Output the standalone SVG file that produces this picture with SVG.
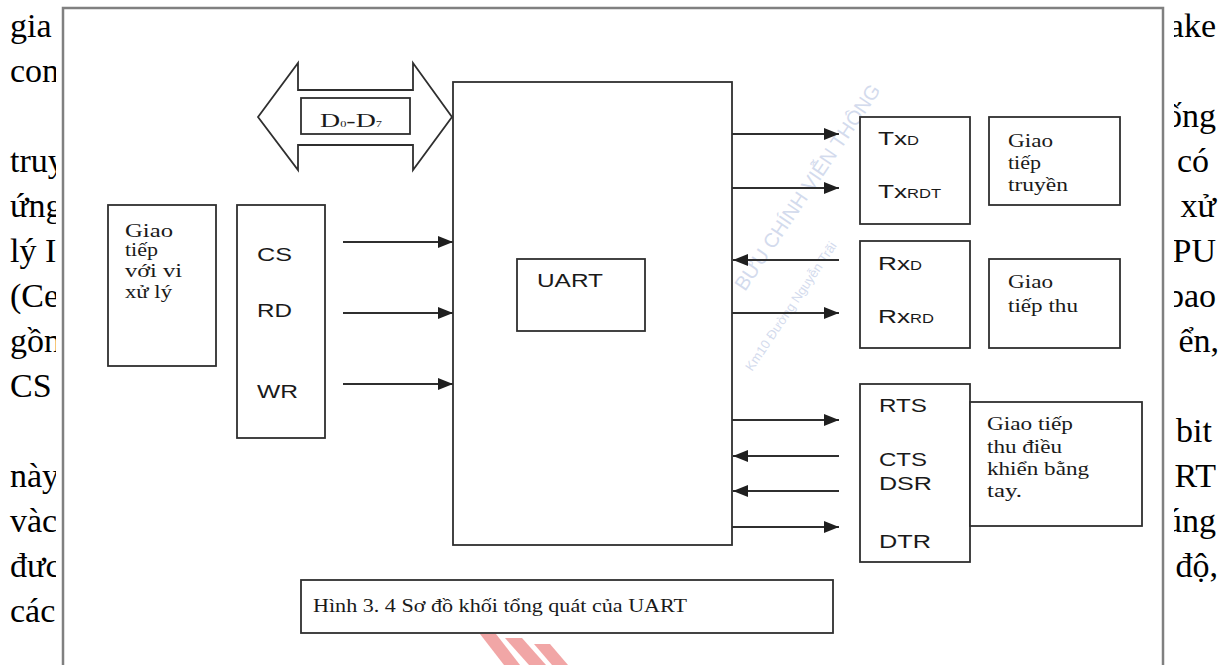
<svg xmlns="http://www.w3.org/2000/svg" width="1232" height="665" viewBox="0 0 1232 665">
<defs>
<style>
.page{font-family:"Liberation Serif","Times New Roman",serif;font-size:34px;fill:#000}
.box{fill:#fff;stroke:#2f2f2f;stroke-width:1.8}
.lbl{font-family:"Liberation Sans",Arial,sans-serif;font-size:19px;fill:#1a1a1a}
.srf{font-family:"Liberation Serif","Times New Roman",serif;font-size:18px;fill:#1a1a1a}
.wire{stroke:#2f2f2f;stroke-width:1.8;fill:none}
.wm{font-family:"Liberation Sans",Arial,sans-serif;fill:#9fb0d8;opacity:0.45}
</style>
<marker id="ah" markerUnits="userSpaceOnUse" markerWidth="15" markerHeight="12" viewBox="0 0 15 12" refX="15" refY="6" orient="auto"><path d="M0,0 L15,6 L0,12 z" fill="#1f1f1f"/></marker>
</defs>
<rect x="0" y="0" width="1232" height="665" fill="#fff"/>
<g id="page-text-left" class="page">
<text x="10" y="37">gia</text>
<text x="10" y="82">con</text>
<text x="10" y="172">truy</text>
<text x="10" y="217">ứng</text>
<text x="10" y="262">lý I</text>
<text x="10" y="307">(Ce</text>
<text x="10" y="352">gồn</text>
<text x="10" y="397">CS</text>
<text x="10" y="487">này</text>
<text x="10" y="532">vàc</text>
<text x="10" y="577">đưc</text>
<text x="10" y="622">các</text>
</g>
<g id="page-text-right" class="page" text-anchor="end">
<text x="1216" y="37">ake</text>
<text x="1216" y="127">ống</text>
<text x="1209" y="172">có</text>
<text x="1216" y="217">xử</text>
<text x="1216" y="262">PU</text>
<text x="1216" y="307">bao</text>
<text x="1219" y="352">ển,</text>
<text x="1212" y="442">bit</text>
<text x="1216" y="487">RT</text>
<text x="1216" y="532">úng</text>
<text x="1218" y="577">độ,</text>
</g>
<g id="frame">
<rect x="56" y="0" width="1118" height="665" fill="#fff"/>
<rect x="63" y="8" width="1100" height="700" fill="none" stroke="#808080" stroke-width="2.5"/>
</g>
<g id="watermark">
<text class="wm" font-size="20" transform="translate(745,292) rotate(-56)">BƯU CHÍNH VIỄN THÔNG</text>
<text class="wm" font-size="13" transform="translate(752,372) rotate(-56)">Km10 Đường Nguyễn Trãi</text>
<g fill="#e23b3b" opacity="0.45">
<polygon points="480,634 496,634 520,665 504,665"/>
<polygon points="505,638 522,638 546,665 529,665"/>
<polygon points="534,644 550,644 568,665 552,665"/>
</g>
</g>
<g id="connectors">
<line class="wire" x1="343" y1="242" x2="453" y2="242" marker-end="url(#ah)"/>
<line class="wire" x1="343" y1="313" x2="453" y2="313" marker-end="url(#ah)"/>
<line class="wire" x1="343" y1="384" x2="453" y2="384" marker-end="url(#ah)"/>
<line class="wire" x1="732" y1="134" x2="839" y2="134" marker-end="url(#ah)"/>
<line class="wire" x1="732" y1="188" x2="839" y2="188" marker-end="url(#ah)"/>
<line class="wire" x1="839" y1="260" x2="733" y2="260" marker-end="url(#ah)"/>
<line class="wire" x1="732" y1="313" x2="839" y2="313" marker-end="url(#ah)"/>
<line class="wire" x1="732" y1="420" x2="839" y2="420" marker-end="url(#ah)"/>
<line class="wire" x1="839" y1="456" x2="733" y2="456" marker-end="url(#ah)"/>
<line class="wire" x1="839" y1="491" x2="733" y2="491" marker-end="url(#ah)"/>
<line class="wire" x1="732" y1="527" x2="839" y2="527" marker-end="url(#ah)"/>
</g>
<g id="data-bus">
<polygon class="box" points="258,117 298,63 298,90 413,90 413,63 452,117 413,170 413,145 298,145 298,170"/>
<rect class="box" x="301" y="98" width="109" height="36"/>
<text class="srf" font-size="13" transform="translate(320,127) scale(1.55,1)">D<tspan font-size="8">0</tspan>-D<tspan font-size="8">7</tspan></text>
</g>
<g id="uart-block">
<rect class="box" x="453" y="82" width="279" height="463"/>
</g>
<g id="uart-core">
<rect class="box" x="517" y="259" width="128" height="72"/>
<text class="lbl" x="537" y="287" font-size="23" textLength="66" lengthAdjust="spacingAndGlyphs">UART</text>
</g>
<g id="cpu-interface">
<rect class="box" x="108" y="205" width="108" height="161"/>
<text class="srf" x="125" y="237" textLength="48" lengthAdjust="spacingAndGlyphs">Giao</text>
<text class="srf" x="125" y="256" textLength="33" lengthAdjust="spacingAndGlyphs">tiếp</text>
<text class="srf" x="125" y="277" textLength="57" lengthAdjust="spacingAndGlyphs">với vi</text>
<text class="srf" x="125" y="298" textLength="47" lengthAdjust="spacingAndGlyphs">xử lý</text>
</g>
<g id="control-signals">
<rect class="box" x="237" y="205" width="88" height="233"/>
<text class="lbl" x="257" y="261" textLength="35" lengthAdjust="spacingAndGlyphs">CS</text>
<text class="lbl" x="257" y="317" textLength="35" lengthAdjust="spacingAndGlyphs">RD</text>
<text class="lbl" x="257" y="398" textLength="41" lengthAdjust="spacingAndGlyphs">WR</text>
</g>
<g id="tx-signals">
<rect class="box" x="860" y="117" width="110" height="107"/>
<text class="lbl" font-size="18" transform="translate(878,145) scale(1.38,1)">Tx<tspan font-size="12">D</tspan></text>
<text class="lbl" font-size="18" transform="translate(878,198) scale(1.38,1)">Tx<tspan font-size="12">RDT</tspan></text>
</g>
<g id="tx-interface">
<rect class="box" x="989" y="117" width="131" height="88"/>
<text class="srf" x="1008" y="147" textLength="45" lengthAdjust="spacingAndGlyphs">Giao</text>
<text class="srf" x="1008" y="169" textLength="33" lengthAdjust="spacingAndGlyphs">tiếp</text>
<text class="srf" x="1008" y="191" textLength="60" lengthAdjust="spacingAndGlyphs">truyền</text>
</g>
<g id="rx-signals">
<rect class="box" x="860" y="241" width="110" height="107"/>
<text class="lbl" font-size="18" transform="translate(878,270) scale(1.38,1)">Rx<tspan font-size="12">D</tspan></text>
<text class="lbl" font-size="18" transform="translate(878,323) scale(1.38,1)">Rx<tspan font-size="12">RD</tspan></text>
</g>
<g id="rx-interface">
<rect class="box" x="989" y="259" width="131" height="89"/>
<text class="srf" x="1008" y="288" textLength="45" lengthAdjust="spacingAndGlyphs">Giao</text>
<text class="srf" x="1008" y="312" textLength="70" lengthAdjust="spacingAndGlyphs">tiếp thu</text>
</g>
<g id="handshake-signals">
<rect class="box" x="860" y="384" width="110" height="178"/>
<text class="lbl" x="879" y="412" textLength="48" lengthAdjust="spacingAndGlyphs">RTS</text>
<text class="lbl" x="879" y="466" textLength="48" lengthAdjust="spacingAndGlyphs">CTS</text>
<text class="lbl" x="879" y="490" textLength="53" lengthAdjust="spacingAndGlyphs">DSR</text>
<text class="lbl" x="879" y="548" textLength="52" lengthAdjust="spacingAndGlyphs">DTR</text>
</g>
<g id="handshake-interface">
<rect class="box" x="970" y="402" width="172" height="124"/>
<text class="srf" x="987" y="430" textLength="86" lengthAdjust="spacingAndGlyphs">Giao tiếp</text>
<text class="srf" x="987" y="453" textLength="75" lengthAdjust="spacingAndGlyphs">thu điều</text>
<text class="srf" x="987" y="475" textLength="102" lengthAdjust="spacingAndGlyphs">khiển bằng</text>
<text class="srf" x="987" y="497" textLength="35" lengthAdjust="spacingAndGlyphs">tay.</text>
</g>
<g id="caption">
<rect class="box" x="301" y="580" width="532" height="53"/>
<text class="srf" font-size="19" x="313" y="612" textLength="374" lengthAdjust="spacingAndGlyphs">Hình 3. 4 Sơ đồ khối tổng quát của UART</text>
</g>
</svg>
